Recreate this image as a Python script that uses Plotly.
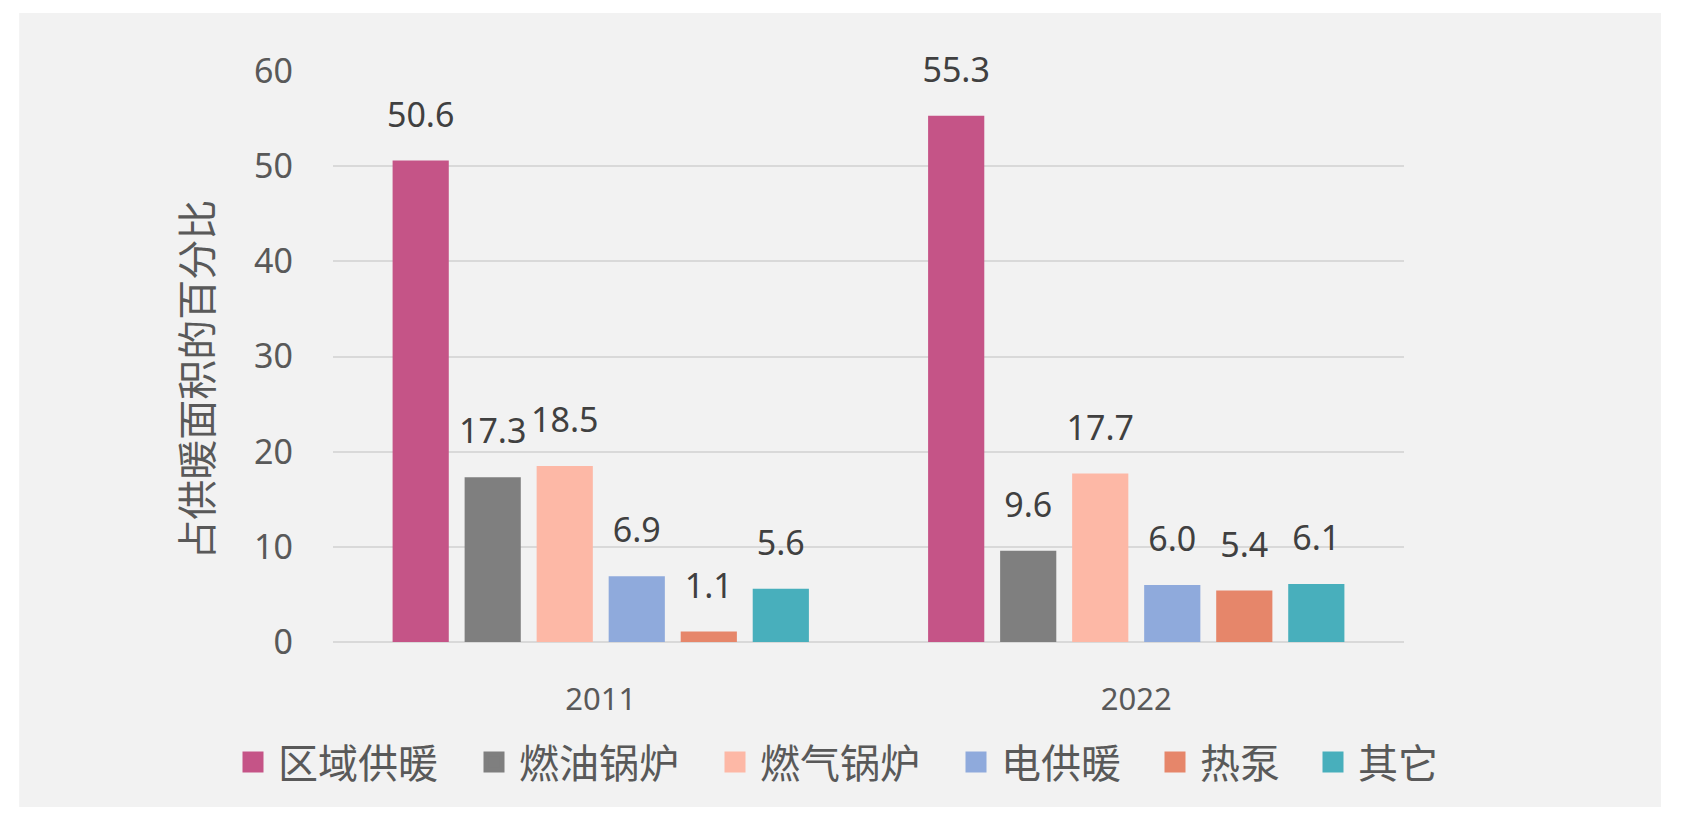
import plotly.graph_objects as go

# 占供暖面积的百分比, by heating type
years = ["2011", "2022"]
series_names = ["区域供暖", "燃油锅炉", "燃气锅炉", "电供暖", "热泵", "其它"]
district = [50.6, 55.3]
oil_boiler = [17.3, 9.6]
gas_boiler = [18.5, 17.7]
electric = [6.9, 6.0]
heat_pump = [1.1, 5.4]
other = [5.6, 6.1]
colors = ["#C55487", "#7F7F7F", "#FDB8A6", "#8FAADC", "#E6866A", "#48AFBC"]
y_title = "占供暖面积的百分比"

series_values = [district, oil_boiler, gas_boiler, electric, heat_pump, other]

num_font = "Noto Sans, DejaVu Sans, sans-serif"
cjk_font = "Noto Sans CJK SC, Noto Sans, sans-serif"
label_gap = 2.2  # space between bar top and its value label, in axis units

fig = go.Figure()
for i, (name, vals, col) in enumerate(zip(series_names, series_values, colors)):
    fig.add_trace(go.Bar(
        x=years, y=vals, name=name,
        marker_color=col, marker_line_width=0,
        offsetgroup=str(i), showlegend=False,
    ))
    # transparent spacer sitting on top of each bar, carries the value label
    fig.add_trace(go.Bar(
        x=years, y=[label_gap] * len(vals), base=vals,
        marker_color="rgba(0,0,0,0)", marker_line_width=0,
        offsetgroup=str(i), showlegend=False, hoverinfo="skip",
        text=[f"{v:.1f}" for v in vals],
        textposition="outside",
        constraintext="none",
        textfont=dict(family=num_font, size=34, color="#404040"),
        cliponaxis=False,
    ))

# legend entries with larger square swatches than the bar default
legend_widths = [186, 186, 186, 144, 103, 103]
for name, col, lw in zip(series_names, colors, legend_widths):
    fig.add_trace(go.Scatter(
        x=[None], y=[None], mode="markers", name=name,
        marker=dict(symbol="square", size=16, color=col, line=dict(color=col, width=5)),
        legendwidth=lw,
    ))

fig.update_layout(
    width=1683,
    height=820,
    barmode="group",
    bargap=0.193,
    bargroupgap=0.22,
    paper_bgcolor="white",
    plot_bgcolor="#F2F2F2",
    margin=dict(l=333, r=279, t=71, b=178),
    font=dict(family=cjk_font, color="#595959"),
    showlegend=True,
    legend=dict(
        orientation="h",
        x=(228 - 333) / 1071, xanchor="left",
        y=-0.21, yanchor="middle",
        itemwidth=40,
        font=dict(family=cjk_font, size=40, color="#595959"),
        bgcolor="rgba(0,0,0,0)",
        traceorder="normal",
    ),
    # grey chart panel behind everything
    shapes=[dict(
        type="rect", xref="paper", yref="paper",
        x0=-0.293, x1=1.240, y0=-0.289, y1=1.1016,
        fillcolor="#F2F2F2", line_width=0, layer="below",
    )],
    # y axis title sits a little below the axis middle, as in the source
    annotations=[dict(
        text=y_title, textangle=-90,
        xref="paper", yref="paper", x=-0.129, y=0.459,
        xanchor="center", yanchor="middle", showarrow=False,
        font=dict(family=cjk_font, size=40, color="#595959"),
    )],
)

fig.update_xaxes(
    showgrid=False,
    showline=False,
    ticks="",
    ticklabelstandoff=36,
    tickfont=dict(family=num_font, size=31, color="#595959"),
)

fig.update_yaxes(
    range=[0, 60],
    dtick=10,
    showgrid=True,
    gridcolor="#D9D9D9",
    gridwidth=2,
    zeroline=True,
    zerolinecolor="#D9D9D9",
    zerolinewidth=2,
    showline=False,
    ticks="",
    ticklabelstandoff=39,
    tickfont=dict(family=num_font, size=34, color="#595959"),
)

fig.write_html(
    "out.html",
    config={"displayModeBar": False},
    post_script="document.body.style.margin='0';",
)
